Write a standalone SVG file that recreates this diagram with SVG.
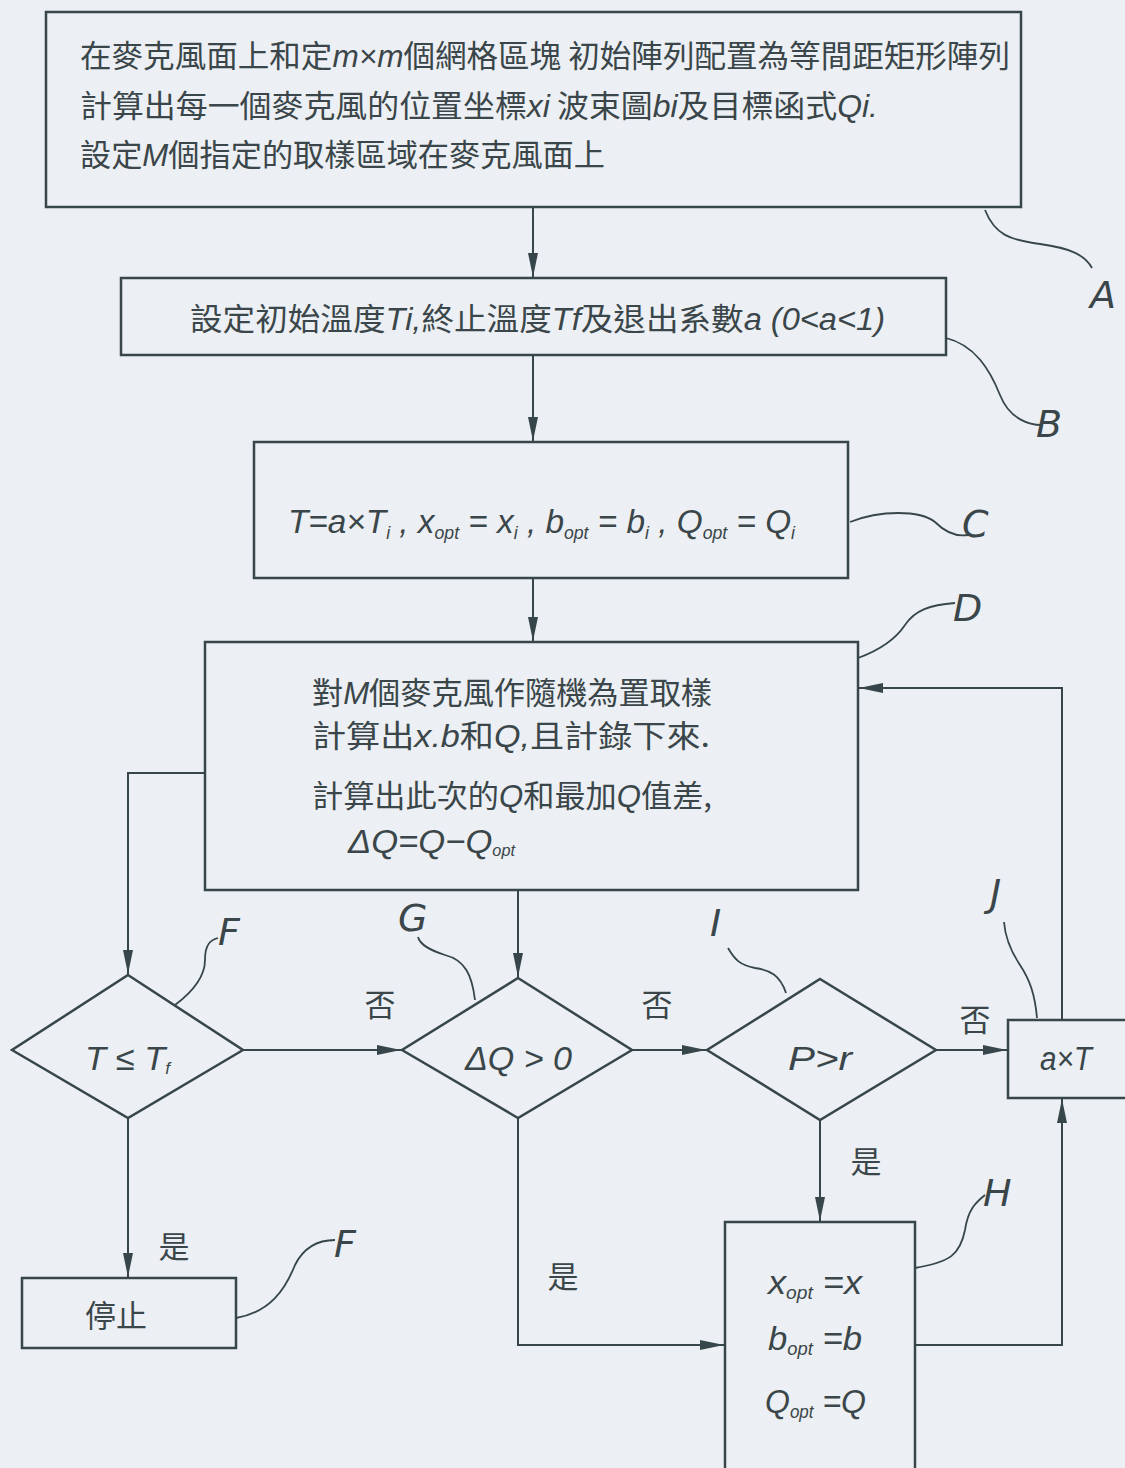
<svg xmlns="http://www.w3.org/2000/svg" width="1125" height="1468" viewBox="0 0 1125 1468">
<defs>
<style>
.box{fill:none;stroke:#36464a;stroke-width:2.5}
.ln{fill:none;stroke:#36464a;stroke-width:2}
.ld{fill:none;stroke:#36464a;stroke-width:1.8}
.t{font-family:"Noto Sans CJK TC","Liberation Sans",sans-serif;font-size:31px;fill:#3a4649}
.i{font-family:"Liberation Sans","DejaVu Sans",sans-serif;font-style:italic}
.m{font-family:"Liberation Sans","DejaVu Sans",sans-serif;font-style:italic;font-size:34px;fill:#3a4649}
.lab{font-family:"DejaVu Sans","Liberation Sans",sans-serif;font-weight:200;font-style:italic;font-size:38px;fill:#3a4649}
</style>
<marker id="ar" viewBox="0 0 24 10" refX="24" refY="5" markerWidth="24" markerHeight="10" markerUnits="userSpaceOnUse" orient="auto"><path d="M0,0 L24,5 L0,10 z" fill="#36464a"/></marker>
</defs>
<rect width="1125" height="1468" fill="#eceff3"/>

<g id="connectors">
<line class="ln" x1="533" y1="207" x2="533" y2="277" marker-end="url(#ar)"/>
<line class="ln" x1="533" y1="355" x2="533" y2="441" marker-end="url(#ar)"/>
<line class="ln" x1="533" y1="578" x2="533" y2="641" marker-end="url(#ar)"/>
<polyline class="ln" points="205,773 128,773 128,974" marker-end="url(#ar)"/>
<line class="ln" x1="518" y1="890" x2="518" y2="977" marker-end="url(#ar)"/>
<line class="ln" x1="243" y1="1050" x2="401" y2="1050" marker-end="url(#ar)"/>
<line class="ln" x1="632" y1="1050" x2="706" y2="1050" marker-end="url(#ar)"/>
<line class="ln" x1="936" y1="1050" x2="1007" y2="1050" marker-end="url(#ar)"/>
<polyline class="ln" points="1062,1020 1062,688 859,688" marker-end="url(#ar)"/>
<line class="ln" x1="820" y1="1120" x2="820" y2="1221" marker-end="url(#ar)"/>
<polyline class="ln" points="518,1118 518,1345 724,1345" marker-end="url(#ar)"/>
<polyline class="ln" points="915,1345 1062,1345 1062,1099" marker-end="url(#ar)"/>
<line class="ln" x1="128" y1="1118" x2="128" y2="1277" marker-end="url(#ar)"/>
<text class="t" x="380" y="1016" text-anchor="middle" font-size="29">否</text>
<text class="t" x="657" y="1016" text-anchor="middle" font-size="29">否</text>
<text class="t" x="975" y="1031" text-anchor="middle" font-size="29">否</text>
<text class="t" x="866" y="1173" text-anchor="middle" font-size="29">是</text>
<text class="t" x="563" y="1288" text-anchor="middle" font-size="29">是</text>
<text class="t" x="174" y="1258" text-anchor="middle" font-size="29">是</text>
</g>

<g id="leaders">
<path class="ld" d="M985,210 C995,235 1010,240 1040,244 C1070,248 1085,255 1092,268"/>
<text class="lab" x="1090" y="308">A</text>
<path class="ld" d="M946,338 C975,345 990,370 1000,395 C1010,420 1030,425 1042,425"/>
<text class="lab" x="1036" y="437">B</text>
<path class="ld" d="M850,522 C880,510 920,510 935,522 C945,532 955,537 968,535"/>
<text class="lab" x="962" y="537">C</text>
<path class="ld" d="M858,658 C880,650 895,640 905,625 C915,610 930,605 955,603"/>
<text class="lab" x="953" y="621">D</text>
<path class="ld" d="M175,1005 C195,990 205,975 205,960 C205,945 210,940 218,938"/>
<text class="lab" x="218" y="945">F</text>
<path class="ld" d="M475,1000 C472,975 465,960 445,955 C430,950 420,945 418,937"/>
<text class="lab" x="398" y="931">G</text>
<path class="ld" d="M786,993 C780,975 770,970 755,968 C740,965 735,960 728,948"/>
<text class="lab" x="710" y="936">I</text>
<path class="ld" d="M1037,1018 C1035,995 1030,980 1020,965 C1010,950 1005,935 1004,922"/>
<text class="lab" x="990" y="906">J</text>
<path class="ld" d="M915,1268 C950,1262 960,1255 965,1230 C968,1210 975,1203 985,1195"/>
<text class="lab" x="983" y="1206">H</text>
<path class="ld" d="M236,1318 C270,1312 285,1290 295,1265 C305,1245 320,1240 335,1240"/>
<text class="lab" x="334" y="1257">F</text>
</g>

<g id="nodeA">
<rect class="box" x="46" y="12" width="975" height="195"/>
<text class="t" x="80" y="67" textLength="930" lengthAdjust="spacingAndGlyphs">在麥克風面上和定<tspan class="i">m×m</tspan>個網格區塊  初始陣列配置為等間距矩形陣列</text>
<text class="t" x="80" y="117" textLength="798" lengthAdjust="spacingAndGlyphs">計算出每一個麥克風的位置坐標<tspan class="i">xi</tspan>  波束圖<tspan class="i">bi</tspan>及目標函式<tspan class="i">Qi.</tspan></text>
<text class="t" x="80" y="166" textLength="525" lengthAdjust="spacingAndGlyphs">設定<tspan class="i">M</tspan>個指定的取樣區域在麥克風面上</text>
</g>

<g id="nodeB">
<rect class="box" x="121" y="278" width="825" height="77"/>
<text class="t" x="190" y="330" textLength="695" lengthAdjust="spacingAndGlyphs">設定初始溫度<tspan class="i">Ti,</tspan>終止溫度<tspan class="i">Tf</tspan>及退出系數<tspan class="i">a (0&lt;a&lt;1)</tspan></text>
</g>

<g id="nodeC">
<rect class="box" x="254" y="442" width="594" height="136"/>
<text class="m" x="288" y="533" font-size="37" textLength="507" lengthAdjust="spacingAndGlyphs">T=a×T<tspan font-size="18" dy="6">i</tspan><tspan dy="-6"> , x</tspan><tspan font-size="18" dy="6">opt</tspan><tspan dy="-6"> = x</tspan><tspan font-size="18" dy="6">i</tspan><tspan dy="-6"> ,  b</tspan><tspan font-size="18" dy="6">opt</tspan><tspan dy="-6"> = b</tspan><tspan font-size="18" dy="6">i</tspan><tspan dy="-6"> ,  Q</tspan><tspan font-size="18" dy="6">opt</tspan><tspan dy="-6"> = Q</tspan><tspan font-size="18" dy="6">i</tspan></text>
</g>

<g id="nodeD">
<rect class="box" x="205" y="642" width="653" height="248"/>
<text class="t" x="312" y="704" textLength="400" lengthAdjust="spacingAndGlyphs">對<tspan class="i">M</tspan>個麥克風作隨機為置取樣</text>
<text class="t" x="312" y="747" textLength="398" lengthAdjust="spacingAndGlyphs">計算出<tspan class="i">x.b</tspan>和<tspan class="i">Q,</tspan>且計錄下來.</text>
<text class="t" x="312" y="807" textLength="400" lengthAdjust="spacingAndGlyphs">計算出此次的<tspan class="i">Q</tspan>和最加<tspan class="i">Q</tspan>值差,</text>
<text class="m" x="348" y="853" textLength="167" lengthAdjust="spacingAndGlyphs">ΔQ=Q−Q<tspan font-size="16" dy="3">opt</tspan></text>
</g>

<g id="nodeF">
<polygon class="box" points="128,975 243,1050 128,1118 12,1050"/>
<text class="m" x="85" y="1070" textLength="85" lengthAdjust="spacingAndGlyphs">T ≤ T<tspan font-size="17" dy="4">f</tspan></text>
</g>

<g id="nodeG">
<polygon class="box" points="518,978 632,1050 518,1118 402,1050"/>
<text class="m" x="465" y="1070" textLength="107" lengthAdjust="spacingAndGlyphs">ΔQ &gt; 0</text>
</g>

<g id="nodeI">
<polygon class="box" points="820,979 936,1050 820,1120 707,1050"/>
<text class="m" x="788" y="1070" textLength="64" lengthAdjust="spacingAndGlyphs">P&gt;r</text>
</g>

<g id="nodeJ">
<rect class="box" x="1008" y="1020" width="130" height="78"/>
<text class="m" x="1040" y="1070" textLength="52" lengthAdjust="spacingAndGlyphs">a×T</text>
</g>

<g id="nodeH">
<rect class="box" x="725" y="1222" width="190" height="260"/>
<text class="m" x="768" y="1294" font-size="36" textLength="94" lengthAdjust="spacingAndGlyphs">x<tspan font-size="18" dy="5">opt</tspan><tspan dy="-5"> =x</tspan></text>
<text class="m" x="768" y="1350" font-size="36" textLength="94" lengthAdjust="spacingAndGlyphs">b<tspan font-size="18" dy="5">opt</tspan><tspan dy="-5"> =b</tspan></text>
<text class="m" x="765" y="1413" font-size="36" textLength="101" lengthAdjust="spacingAndGlyphs">Q<tspan font-size="18" dy="5">opt</tspan><tspan dy="-5"> =Q</tspan></text>
</g>

<g id="nodeStop">
<rect class="box" x="22" y="1278" width="214" height="70"/>
<text class="t" x="85" y="1327" font-size="32">停止</text>
</g>
</svg>
